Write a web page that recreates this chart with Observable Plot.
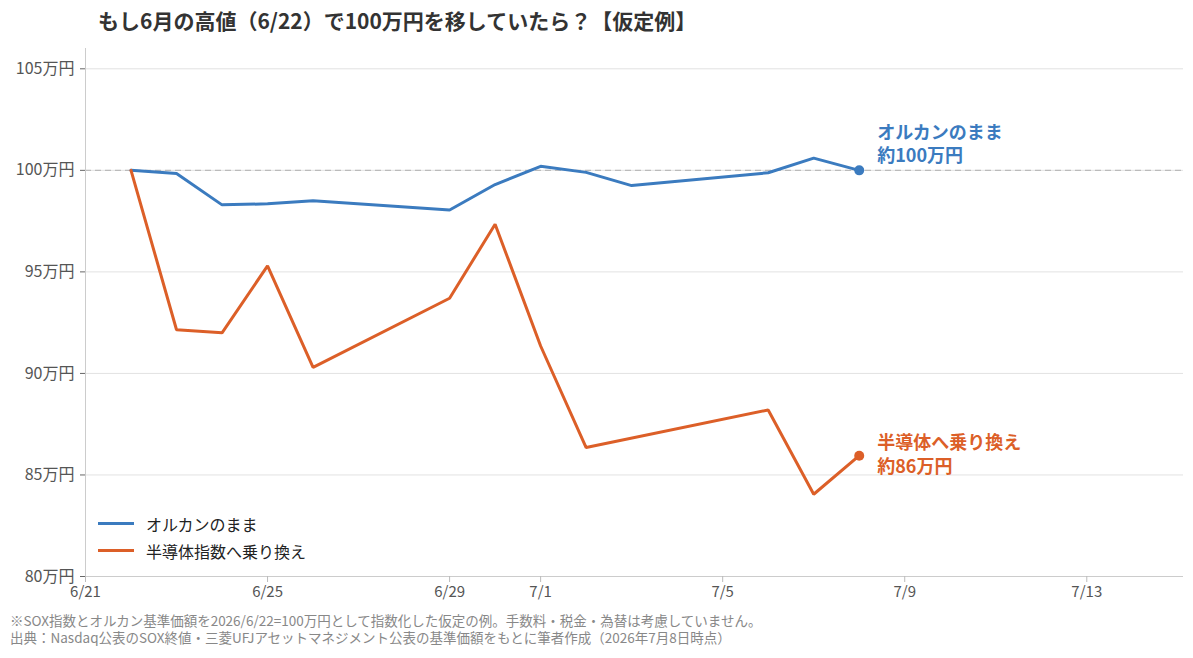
<!DOCTYPE html>
<html><head><meta charset="utf-8">
<script src="https://cdn.jsdelivr.net/npm/d3@7"></script>
<script src="https://cdn.jsdelivr.net/npm/@observablehq/plot@0.6"></script>
<style>
body{margin:0;background:#fff;font-family:"Noto Sans CJK JP","Noto Sans",sans-serif;}
#wrap{position:relative;width:1193px;height:658px;overflow:hidden;}
#title{position:absolute;left:98px;top:5px;font-size:21px;font-weight:bold;color:#333;white-space:nowrap;}
#chart{position:absolute;left:0;top:40px;}
#legend{position:absolute;left:98px;top:510px;font-size:16px;color:#222;}
#legend div{display:flex;align-items:center;height:27px;}
#legend span.sw{display:inline-block;width:36px;height:3px;margin-right:12px;}
#caption{position:absolute;left:10px;top:612px;font-size:13.5px;color:#888;white-space:nowrap;}
#caption div{height:17px;line-height:17px;overflow:visible;}
</style></head>
<body><div id="wrap">
<div id="title"></div>
<div id="chart"></div>
<div id="legend"></div>
<div id="caption"></div>
</div>
<script>
const titleText = "もし6月の高値（6/22）で100万円を移していたら？【仮定例】";
const captionLines = [
  "※SOX指数とオルカン基準価額を2026/6/22=100万円として指数化した仮定の例。手数料・税金・為替は考慮していません。",
  "出典：Nasdaq公表のSOX終値・三菱UFJアセットマネジメント公表の基準価額をもとに筆者作成（2026年7月8日時点）"
];
const seriesNames = ["オルカンのまま", "半導体指数へ乗り換え"];
const seriesColors = ["#3b7bbf", "#dc5f28"];
const endLabels = ["オルカンのまま\n約100万円", "半導体へ乗り換え\n約86万円"];
const dates = ["2026-06-22","2026-06-23","2026-06-24","2026-06-25","2026-06-26","2026-06-29","2026-06-30","2026-07-01","2026-07-02","2026-07-03","2026-07-06","2026-07-07","2026-07-08"];
const orcan = [100, 99.85, 98.3, 98.35, 98.5, 98.05, 99.3, 100.2, 99.9, 99.25, 99.88, 100.6, 100.0];
const semi  = [100, 92.15, 92.0, 95.3, 90.3, 93.7, 97.35, 91.35, 86.35, null, 88.2, 84.05, 85.95];
const xTickDates = ["2026-06-21","2026-06-25","2026-06-29","2026-07-01","2026-07-05","2026-07-09","2026-07-13"];
const yTicks = [80, 85, 90, 95, 100, 105];
const xDomain = [new Date("2026-06-21T00:00:00Z"), new Date("2026-07-15T03:00:00Z")];
const yDomain = [80, 106];
const baseline = 100;

document.getElementById("title").textContent = titleText;
document.getElementById("caption").innerHTML = captionLines.map(s => `<div>${s}</div>`).join("");
document.getElementById("legend").innerHTML = seriesNames.map((n, i) =>
  `<div><span class="sw" style="background:${seriesColors[i]}"></span>${n}</div>`).join("");

const rows = [];
[orcan, semi].forEach((vals, si) => {
  vals.forEach((v, i) => { if (v != null) rows.push({date: new Date(dates[i] + "T00:00:00Z"), value: v, series: seriesNames[si]}); });
});
const last = seriesNames.map(n => rows.filter(r => r.series === n).at(-1));
const fmt = d => `${d.getUTCMonth() + 1}/${d.getUTCDate()}`;
const font = '"Noto Sans CJK JP","Noto Sans",sans-serif';

const chart = Plot.plot({
  width: 1193, height: 568,
  marginLeft: 85, marginRight: 10, marginTop: 8, marginBottom: 32,
  style: {fontFamily: font, background: "transparent", overflow: "visible"},
  x: {type: "utc", domain: xDomain},
  y: {domain: yDomain},
  color: {domain: seriesNames, range: seriesColors},
  marks: [
    Plot.gridY(yTicks, {stroke: "#e2e2e2", strokeOpacity: 1}),
    Plot.ruleY([baseline], {stroke: "#bbbbbb", strokeDasharray: "6,4", strokeWidth: 1.2}),
    Plot.ruleX([xDomain[0]], {stroke: "#cccccc"}),
    Plot.ruleY([yDomain[0]], {stroke: "#cccccc"}),
    Plot.axisY({ticks: yTicks, tickFormat: d => d + "万円", tickSize: 5, tickPadding: 6, stroke: "#666", fill: "#555", fontSize: 16, label: null}),
    Plot.axisX({ticks: xTickDates.map(s => new Date(s + "T00:00:00Z")), tickFormat: fmt, tickSize: 6, tickPadding: 4, stroke: "#bbb", fill: "#555", fontSize: 15, label: null}),
    Plot.line(rows, {x: "date", y: "value", stroke: "series", strokeWidth: 3, strokeLinejoin: "miter"}),
    Plot.dot(last, {x: "date", y: "value", fill: "series", r: 5}),
    Plot.text([last[0]], {x: "date", y: "value", text: () => endLabels[0], dx: 18, dy: -8, textAnchor: "start", lineAnchor: "bottom", lineHeight: 1.3, fill: seriesColors[0], fontWeight: "bold", fontSize: 18}),
    Plot.text([last[1]], {x: "date", y: "value", text: () => endLabels[1], dx: 18, dy: -2, textAnchor: "start", lineAnchor: "middle", lineHeight: 1.3, fill: seriesColors[1], fontWeight: "bold", fontSize: 18})
  ]
});
document.getElementById("chart").appendChild(chart);
</script>
</body></html>
